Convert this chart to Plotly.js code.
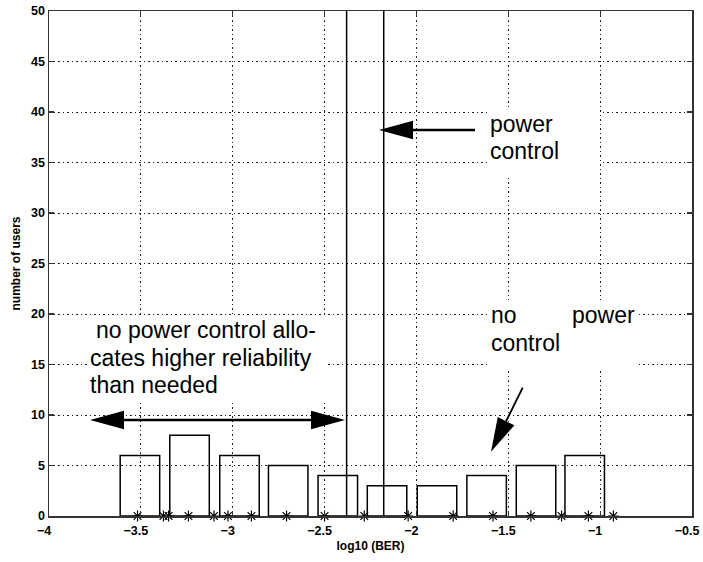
<!DOCTYPE html>
<html>
<head>
<meta charset="utf-8">
<script src="https://cdn.plot.ly/plotly-3.0.1.min.js"></script>
<style>html,body{margin:0;padding:0;background:#fff;}#chart{width:703px;height:562px;}</style>
</head>
<body>
<div id="chart"></div>
<script>
// ---- data ----
const binCenters = [-3.505, -3.235, -2.963, -2.698, -2.428, -2.160, -1.888, -1.618, -1.349, -1.084];
const binCounts  = [6, 8, 6, 5, 4, 3, 3, 4, 5, 6];
const binWidth   = 0.215;
const berSamples = [-3.518, -3.377, -3.349, -3.241, -3.102, -3.026, -2.898, -2.707, -2.500,
                    -2.284, -2.045, -1.800, -1.583, -1.377, -1.210, -1.064, -0.928];
const sampleLevel = [0, 0, 0, 0, 0, 0, 0, 0, 0, 0, 0, 0, 0, 0, 0, 0, 0];
const meanLines  = [-2.380, -2.178];   // no power control / power control
const yRange = [0, 50];
const xRange = [-4, -0.5];

// ---- geometry helpers (annotation arrows) ----
const W = 703, H = 562, M = {l: 49, r: 11, t: 11, b: 46};
const pxX = (W - M.l - M.r) / (xRange[1] - xRange[0]);
const pxY = (H - M.t - M.b) / (yRange[1] - yRange[0]);

function headPath(tip, from, len, half) {
  const dx = (tip[0] - from[0]) * pxX, dy = (tip[1] - from[1]) * pxY;
  const L = Math.hypot(dx, dy), ux = dx / L, uy = dy / L;
  const bx = -ux * len, by = -uy * len, nx = -uy * half, ny = ux * half;
  const p = (ox, oy) => (tip[0] + ox / pxX) + ',' + (tip[1] + oy / pxY);
  return {
    shape: {type: 'path', xref: 'x', yref: 'y', layer: 'above',
            path: 'M' + p(0, 0) + ' L' + p(bx + nx, by + ny) + ' L' + p(bx - nx, by - ny) + ' Z',
            fillcolor: '#000', line: {width: 0}},
    base: [tip[0] + bx / pxX, tip[1] + by / pxY]
  };
}
function arrow(tail, tip, opts) {
  const len = opts.len || 34, half = opts.half || 9.3, w = opts.width || 2;
  const out = [];
  const h1 = headPath(tip, tail, len, half);
  out.push(h1.shape);
  let start = tail;
  if (opts.double) { const h2 = headPath(tail, tip, len, half); out.push(h2.shape); start = h2.base; }
  out.push({type: 'line', xref: 'x', yref: 'y', layer: 'above',
            x0: start[0], y0: start[1], x1: h1.base[0], y1: h1.base[1],
            line: {color: '#000', width: w}});
  return out;
}
const X = px => (px - M.l) / pxX + xRange[0];
const Y = py => (H - M.b - py) / pxY + yRange[0];

// annotation arrows
const arrowPC   = arrow([X(475), Y(130)], [X(379), Y(130)], {width: 2.5});
const arrowNoPC = arrow([X(90), Y(420)], [X(345), Y(420)], {width: 2.5, double: true});
const arrowDiag = arrow([X(522.7), Y(387.7)], [X(491), Y(451.7)], {width: 1.8});

// white boxes behind text
function box(x0, y0, x1, y1) {
  return {type: 'rect', xref: 'x', yref: 'y', layer: 'between',
          x0: X(x0), x1: X(x1), y0: Y(y1), y1: Y(y0), fillcolor: '#fff', line: {width: 0}};
}
const boxes = [box(487, 108, 600, 178), box(488, 300, 637, 370), box(88, 316, 328, 401)];

const txtFont = {family: 'Liberation Sans, Arial, sans-serif', size: 23, color: '#000'};
function label(text, px, py, xanchor) {
  return {text: text, x: X(px), y: Y(py), xref: 'x', yref: 'y', showarrow: false,
          xanchor: xanchor || 'left', yanchor: 'middle', font: txtFont};
}
const annotations = [
  label('power', 488, 124),
  label('control', 488, 151),
  label('no', 489, 315),
  label('power', 637, 315, 'right'),
  label('control', 489, 343),
  label('no power control allo-', 94, 330),
  label('cates higher reliability', 88, 358),
  label('than needed', 88, 385)
];

const traces = [
  {type: 'bar', x: binCenters, y: binCounts, width: binCenters.map(() => binWidth),
   marker: {color: 'rgba(0,0,0,0)', line: {color: '#000', width: 1.5}}, hoverinfo: 'x+y'},
  {type: 'scatter', mode: 'markers', x: berSamples, y: sampleLevel, cliponaxis: false,
   marker: {symbol: 'asterisk-open', size: 9, color: '#000', line: {color: '#000', width: 1.2}}},
];
meanLines.forEach(v => traces.push({type: 'scatter', mode: 'lines', x: [v, v], y: yRange,
  line: {color: '#000', width: 1.5}}));

const tickFont = {family: 'Liberation Sans, Arial, sans-serif', size: 12.5, color: '#000', weight: 'bold'};
const titleFont = {family: 'Liberation Sans, Arial, sans-serif', size: 12, color: '#000', weight: 'bold'};
const axisCommon = {
  showline: true, linecolor: '#333', linewidth: 1.5, mirror: 'ticks',
  ticks: 'inside', ticklen: 5, tickcolor: '#333', tickwidth: 1.2,
  showgrid: true, gridcolor: '#222', gridwidth: 1, griddash: '2px,3px,1px,3px',
  zeroline: false, tickfont: tickFont, fixedrange: true, ticklabeloverflow: 'allow'
};
const layout = {
  width: W, height: H, margin: M, showlegend: false, bargap: 0,
  paper_bgcolor: '#fff', plot_bgcolor: '#fff',
  xaxis: Object.assign({}, axisCommon, {range: xRange, dtick: 0.5, tick0: -4,
    ticklabelshift: -5, ticklabelstandoff: 2,
    title: {text: 'log10 (BER)', font: titleFont, standoff: 5}}),
  yaxis: Object.assign({}, axisCommon, {range: yRange, dtick: 5, tick0: 0,
    title: {text: 'number of users', font: titleFont, standoff: 8}}),
  shapes: boxes.concat(arrowPC, arrowNoPC, arrowDiag),
  annotations: annotations
};
Plotly.newPlot('chart', traces, layout, {staticPlot: true});
</script>
</body>
</html>
